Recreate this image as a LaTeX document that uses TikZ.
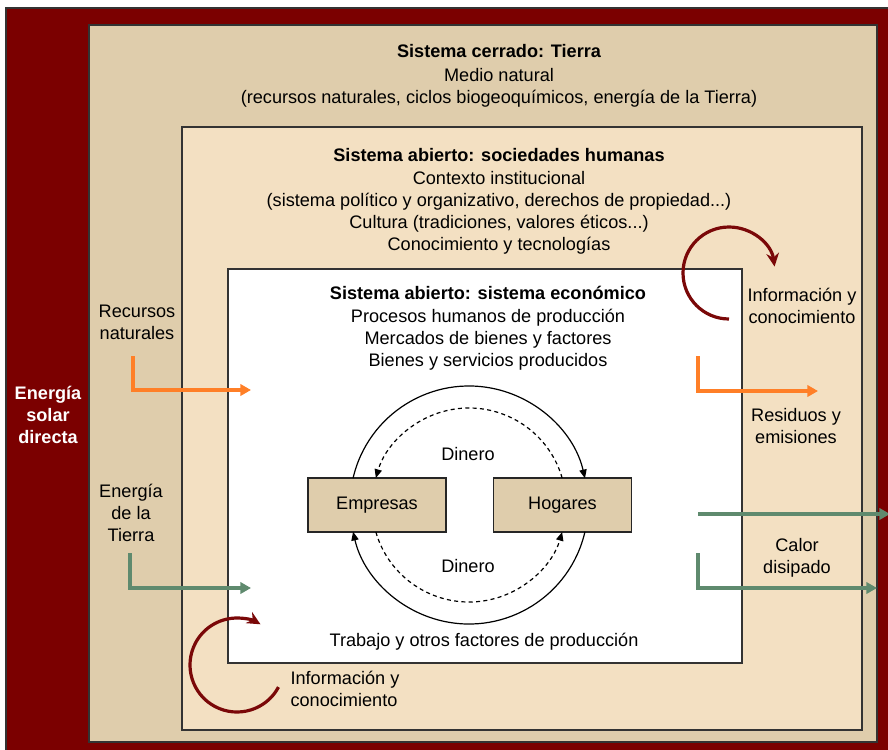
\documentclass[tikz,border=0pt]{standalone}
\usepackage{fontspec}
\setmainfont{Liberation Sans}
\usetikzlibrary{arrows.meta, positioning}
\definecolor{rojosolar}{HTML}{7B0000}
\definecolor{arenatierra}{HTML}{DFCDAC}
\definecolor{cremasociedad}{HTML}{F3E0C2}
\definecolor{naranjaflujo}{HTML}{FF7F27}
\definecolor{verdeflujo}{HTML}{5F8A6E}
\definecolor{granate}{HTML}{7A0808}

\tikzset{
  texto/.style={align=center, inner sep=0pt, font=\fontsize{13.6}{16.5}\selectfont},
  titulo/.style={texto, font=\fontsize{13.6}{16.5}\selectfont\bfseries},
  marco/.style={draw=black!80, line width=1pt},
  agente/.style={texto, draw=black!85, fill=arenatierra, line width=1pt, minimum width=103.5pt, minimum height=40.5pt},
  flujo/.style={line width=2.4pt, -{Triangle[length=8pt,width=8.5pt]}},
  ciclo/.style={line width=0.9pt, -{Triangle[length=6.5pt,width=5.5pt]}},
  info/.style={granate, line width=2.4pt, -{Stealth[length=10pt,width=9.5pt]}}
}

\begin{document}
\begin{tikzpicture}[x=0.75pt,y=-0.75pt]
    \useasboundingbox (0,0) rectangle (888,749);
    % Nested systems
    \fill[rojosolar, draw=black!80, line width=1pt] (6,8) rectangle (900,760);
    \draw[marco, fill=arenatierra] (89,25) rectangle (877,742);
    \draw[marco, fill=cremasociedad] (182,127) rectangle (862,730);
    \draw[marco, fill=white] (228,269) rectangle (742,663);

    % Titles of each system
    \node[titulo] (tierra) at (499,51) {Sistema cerrado: Tierra};
    \node[texto] (medio) at (499,87.5) {Medio natural\\(recursos naturales, ciclos biogeoquímicos, energía de la Tierra)};
    \node[titulo] (sociedad) at (499,155) {Sistema abierto: sociedades humanas};
    \node[texto] (contexto) at (499,213) {Contexto institucional\\(sistema político y organizativo, derechos de propiedad...)\\Cultura (tradiciones, valores éticos...)\\Conocimiento y tecnologías};
    \node[titulo] (economia) at (488,293) {Sistema abierto: sistema económico};
    \node[texto] (procesos) at (488,340) {Procesos humanos de producción\\Mercados de bienes y factores\\Bienes y servicios producidos};
    \node[titulo, text=white] (solar) at (48,415) {Energía\\solar\\directa};

    % Circular flow
    \node[agente] (empresas) at (377,505) {Empresas};
    \node[agente] (hogares) at (562.5,505) {Hogares};
    \coordinate (centro) at (469,505);
    \draw[ciclo] (centro) ++(193:119) arc[start angle=193, end angle=347, radius=119];
    \draw[ciclo] (centro) ++(13:119) arc[start angle=13, end angle=167, radius=119];
    \draw[ciclo, dash pattern=on 3pt off 2.5pt] (centro) ++(343.8:97) arc[start angle=343.8, end angle=196.2, radius=97];
    \draw[ciclo, dash pattern=on 3pt off 2.5pt] (centro) ++(163.8:97) arc[start angle=163.8, end angle=16.2, radius=97];
    \node[texto] (dinero1) at (468,454) {Dinero};
    \node[texto] (dinero2) at (468,566) {Dinero};
    \node[texto] (trabajo) at (484,642) {Trabajo y otros factores de producción};

    % Inputs
    \node[texto] (recursos) at (137,322) {Recursos\\naturales};
    \coordinate (rec-ini) at (133,356);
    \coordinate (rec-fin) at (251,390);
    \draw[flujo, naranjaflujo] (rec-ini) |- (rec-fin);
    \node[texto] (energia) at (131,513) {Energía\\de la\\Tierra};
    \coordinate (ene-ini) at (130,553);
    \coordinate (ene-fin) at (251,588);
    \draw[flujo, verdeflujo] (ene-ini) |- (ene-fin);

    % Outputs
    \node[texto] (residuos) at (796,426) {Residuos y\\emisiones};
    \coordinate (res-ini) at (698,356);
    \coordinate (res-fin) at (818,391);
    \draw[flujo, naranjaflujo] (res-ini) |- (res-fin);
    \node[texto] (calor) at (797,558) {Calor\\disipado};
    \coordinate (cal-ini) at (698,514);
    \coordinate (cal-fin) at (890,514);
    \draw[flujo, verdeflujo] (cal-ini) -- (cal-fin);
    \coordinate (dis-ini) at (698,553);
    \coordinate (dis-fin) at (877,588);
    \draw[flujo, verdeflujo] (dis-ini) |- (dis-fin);

    % Information loops
    \node[texto] (info1) at (802,306) {Información y\\conocimiento};
    \coordinate (giro1) at (729,273);
    \draw[info] (giro1) ++(90:46) arc[start angle=90, end angle=352, radius=46];
    \node[texto, align=left] (info2) at (345,689) {Información y\\conocimiento};
    \coordinate (giro2) at (237,665);
    \draw[info] (giro2) ++(28:47) arc[start angle=28, end angle=300, radius=47];
  \end{tikzpicture}
\end{document}
